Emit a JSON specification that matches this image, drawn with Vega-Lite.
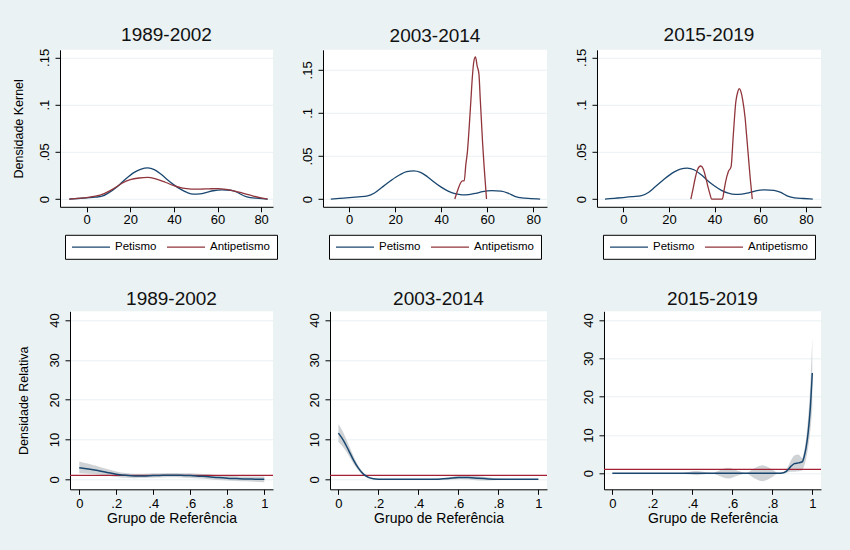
{
  "$schema": "https://vega.github.io/schema/vega-lite/v6.json",
  "background": "#EAF2F3",
  "padding": {"left": 2, "top": 24.8, "right": 29, "bottom": 26},
  "config": {
    "font": "Liberation Sans",
    "view": {"fill": "white", "stroke": null},
    "title": {"font": "Liberation Sans", "fontSize": 19, "fontWeight": "normal", "color": "#111111", "anchor": "middle", "offset": 3.7},
    "axis": {"labelFont": "Liberation Sans", "labelFontSize": 13, "labelColor": "#000000", "titleFont": "Liberation Sans", "titleFontWeight": "normal", "titleColor": "#000000", "domainColor": "#000000", "tickColor": "#000000", "tickSize": 5, "gridColor": "#EAF2F3", "labelPadding": 2, "labelExpr": "replace(format(datum.value, '~g'), '0.', '.')"},
    "axisY": {"labelAngle": 270, "labelAlign": "center", "labelBaseline": "alphabetic", "labelPadding": 6.5, "grid": true},
    "axisX": {"grid": false},
    "legend": {"orient": "none", "direction": "horizontal", "strokeColor": "#000000", "fillColor": "#ffffff", "padding": 6, "columnPadding": 7, "symbolType": "M-3.8,0H3.8", "symbolSize": 100, "symbolOffset": 14, "labelOffset": 18, "symbolStrokeWidth": 1.3, "labelFont": "Liberation Sans", "labelFontSize": 11.5, "labelColor": "#000000", "title": null, "legendY": 185}
  },
  "datasets": {
    "k1": [
      {"x": -8, "y": 0, "grupo": "Petismo"}, {"x": -4, "y": 0.0006, "grupo": "Petismo"}, {"x": 0, "y": 0.0013, "grupo": "Petismo"}, {"x": 4, "y": 0.002, "grupo": "Petismo"}, {"x": 7, "y": 0.003, "grupo": "Petismo"}, {"x": 10, "y": 0.0065, "grupo": "Petismo"}, {"x": 14, "y": 0.013, "grupo": "Petismo"}, {"x": 18, "y": 0.0215, "grupo": "Petismo"}, {"x": 22, "y": 0.0285, "grupo": "Petismo"}, {"x": 25, "y": 0.0318, "grupo": "Petismo"}, {"x": 28, "y": 0.033, "grupo": "Petismo"}, {"x": 31, "y": 0.0312, "grupo": "Petismo"}, {"x": 34, "y": 0.0265, "grupo": "Petismo"}, {"x": 37, "y": 0.0205, "grupo": "Petismo"}, {"x": 40, "y": 0.015, "grupo": "Petismo"}, {"x": 43, "y": 0.0105, "grupo": "Petismo"}, {"x": 46, "y": 0.007, "grupo": "Petismo"}, {"x": 49, "y": 0.0052, "grupo": "Petismo"}, {"x": 52, "y": 0.0055, "grupo": "Petismo"}, {"x": 55, "y": 0.007, "grupo": "Petismo"}, {"x": 58, "y": 0.0088, "grupo": "Petismo"}, {"x": 62, "y": 0.0098, "grupo": "Petismo"}, {"x": 66, "y": 0.0093, "grupo": "Petismo"}, {"x": 69, "y": 0.0072, "grupo": "Petismo"}, {"x": 72, "y": 0.0035, "grupo": "Petismo"}, {"x": 75, "y": 0.0015, "grupo": "Petismo"}, {"x": 79, "y": 0.0007, "grupo": "Petismo"}, {"x": 83, "y": 0, "grupo": "Petismo"},
      {"x": -8, "y": 0, "grupo": "Antipetismo"}, {"x": -4, "y": 0.0007, "grupo": "Antipetismo"}, {"x": 0, "y": 0.0016, "grupo": "Antipetismo"}, {"x": 4, "y": 0.003, "grupo": "Antipetismo"}, {"x": 8, "y": 0.0058, "grupo": "Antipetismo"}, {"x": 12, "y": 0.0105, "grupo": "Antipetismo"}, {"x": 16, "y": 0.0165, "grupo": "Antipetismo"}, {"x": 20, "y": 0.0205, "grupo": "Antipetismo"}, {"x": 24, "y": 0.0223, "grupo": "Antipetismo"}, {"x": 28, "y": 0.023, "grupo": "Antipetismo"}, {"x": 32, "y": 0.021, "grupo": "Antipetismo"}, {"x": 36, "y": 0.0178, "grupo": "Antipetismo"}, {"x": 40, "y": 0.0142, "grupo": "Antipetismo"}, {"x": 44, "y": 0.0115, "grupo": "Antipetismo"}, {"x": 48, "y": 0.0106, "grupo": "Antipetismo"}, {"x": 52, "y": 0.0105, "grupo": "Antipetismo"}, {"x": 56, "y": 0.0108, "grupo": "Antipetismo"}, {"x": 60, "y": 0.0111, "grupo": "Antipetismo"}, {"x": 64, "y": 0.0103, "grupo": "Antipetismo"}, {"x": 68, "y": 0.0085, "grupo": "Antipetismo"}, {"x": 72, "y": 0.006, "grupo": "Antipetismo"}, {"x": 76, "y": 0.0034, "grupo": "Antipetismo"}, {"x": 80, "y": 0.0012, "grupo": "Antipetismo"}, {"x": 83, "y": 0, "grupo": "Antipetismo"}
    ],
    "k2": [
      {"x": -8, "y": 0, "grupo": "Petismo"}, {"x": -4, "y": 0.0008, "grupo": "Petismo"}, {"x": 0, "y": 0.0016, "grupo": "Petismo"}, {"x": 4, "y": 0.0025, "grupo": "Petismo"}, {"x": 8, "y": 0.0036, "grupo": "Petismo"}, {"x": 11, "y": 0.007, "grupo": "Petismo"}, {"x": 14, "y": 0.013, "grupo": "Petismo"}, {"x": 18, "y": 0.0212, "grupo": "Petismo"}, {"x": 22, "y": 0.0282, "grupo": "Petismo"}, {"x": 25, "y": 0.0318, "grupo": "Petismo"}, {"x": 28, "y": 0.0327, "grupo": "Petismo"}, {"x": 31, "y": 0.031, "grupo": "Petismo"}, {"x": 34, "y": 0.026, "grupo": "Petismo"}, {"x": 37, "y": 0.0195, "grupo": "Petismo"}, {"x": 40, "y": 0.0138, "grupo": "Petismo"}, {"x": 43, "y": 0.0092, "grupo": "Petismo"}, {"x": 46, "y": 0.0062, "grupo": "Petismo"}, {"x": 49, "y": 0.0049, "grupo": "Petismo"}, {"x": 52, "y": 0.0052, "grupo": "Petismo"}, {"x": 55, "y": 0.0066, "grupo": "Petismo"}, {"x": 58, "y": 0.0087, "grupo": "Petismo"}, {"x": 62, "y": 0.0098, "grupo": "Petismo"}, {"x": 66, "y": 0.0092, "grupo": "Petismo"}, {"x": 69, "y": 0.007, "grupo": "Petismo"}, {"x": 72, "y": 0.0032, "grupo": "Petismo"}, {"x": 75, "y": 0.0013, "grupo": "Petismo"}, {"x": 79, "y": 0.0006, "grupo": "Petismo"}, {"x": 83, "y": 0, "grupo": "Petismo"},
      {"x": 45.9, "y": 0, "grupo": "Antipetismo"}, {"x": 46.5, "y": 0.005, "grupo": "Antipetismo"}, {"x": 47.4, "y": 0.012, "grupo": "Antipetismo"}, {"x": 48.3, "y": 0.018, "grupo": "Antipetismo"}, {"x": 49.2, "y": 0.021, "grupo": "Antipetismo"}, {"x": 50, "y": 0.021, "grupo": "Antipetismo"}, {"x": 50.7, "y": 0.04, "grupo": "Antipetismo"}, {"x": 51.4, "y": 0.055, "grupo": "Antipetismo"}, {"x": 52.2, "y": 0.085, "grupo": "Antipetismo"}, {"x": 52.8, "y": 0.11, "grupo": "Antipetismo"}, {"x": 53.5, "y": 0.14, "grupo": "Antipetismo"}, {"x": 54.2, "y": 0.16, "grupo": "Antipetismo"}, {"x": 54.9, "y": 0.165, "grupo": "Antipetismo"}, {"x": 55.6, "y": 0.155, "grupo": "Antipetismo"}, {"x": 56.4, "y": 0.145, "grupo": "Antipetismo"}, {"x": 57, "y": 0.115, "grupo": "Antipetismo"}, {"x": 57.5, "y": 0.09, "grupo": "Antipetismo"}, {"x": 58, "y": 0.065, "grupo": "Antipetismo"}, {"x": 58.6, "y": 0.04, "grupo": "Antipetismo"}, {"x": 59.2, "y": 0.018, "grupo": "Antipetismo"}, {"x": 59.7, "y": 0, "grupo": "Antipetismo"}
    ],
    "k3": [
      {"x": -8, "y": 0, "grupo": "Petismo"}, {"x": -4, "y": 0.0008, "grupo": "Petismo"}, {"x": 0, "y": 0.0016, "grupo": "Petismo"}, {"x": 4, "y": 0.0025, "grupo": "Petismo"}, {"x": 8, "y": 0.0036, "grupo": "Petismo"}, {"x": 11, "y": 0.007, "grupo": "Petismo"}, {"x": 14, "y": 0.013, "grupo": "Petismo"}, {"x": 18, "y": 0.0212, "grupo": "Petismo"}, {"x": 22, "y": 0.0282, "grupo": "Petismo"}, {"x": 25, "y": 0.0318, "grupo": "Petismo"}, {"x": 28, "y": 0.0327, "grupo": "Petismo"}, {"x": 31, "y": 0.031, "grupo": "Petismo"}, {"x": 34, "y": 0.026, "grupo": "Petismo"}, {"x": 37, "y": 0.0195, "grupo": "Petismo"}, {"x": 40, "y": 0.0138, "grupo": "Petismo"}, {"x": 43, "y": 0.0092, "grupo": "Petismo"}, {"x": 46, "y": 0.0062, "grupo": "Petismo"}, {"x": 49, "y": 0.0049, "grupo": "Petismo"}, {"x": 52, "y": 0.0052, "grupo": "Petismo"}, {"x": 55, "y": 0.0066, "grupo": "Petismo"}, {"x": 58, "y": 0.0087, "grupo": "Petismo"}, {"x": 62, "y": 0.0098, "grupo": "Petismo"}, {"x": 66, "y": 0.0092, "grupo": "Petismo"}, {"x": 69, "y": 0.007, "grupo": "Petismo"}, {"x": 72, "y": 0.0032, "grupo": "Petismo"}, {"x": 75, "y": 0.0013, "grupo": "Petismo"}, {"x": 79, "y": 0.0006, "grupo": "Petismo"}, {"x": 83, "y": 0, "grupo": "Petismo"},
      {"x": 29.6, "y": 0, "grupo": "Antipetismo"}, {"x": 30.5, "y": 0.01, "grupo": "Antipetismo"}, {"x": 31.5, "y": 0.022, "grupo": "Antipetismo"}, {"x": 32.5, "y": 0.031, "grupo": "Antipetismo"}, {"x": 33.9, "y": 0.035, "grupo": "Antipetismo"}, {"x": 35, "y": 0.032, "grupo": "Antipetismo"}, {"x": 36, "y": 0.024, "grupo": "Antipetismo"}, {"x": 37, "y": 0.014, "grupo": "Antipetismo"}, {"x": 38, "y": 0.005, "grupo": "Antipetismo"}, {"x": 38.7, "y": 0, "grupo": "Antipetismo"}, {"x": 41, "y": 0, "grupo": "Antipetismo"}, {"x": 43.4, "y": 0, "grupo": "Antipetismo"}, {"x": 44.2, "y": 0.01, "grupo": "Antipetismo"}, {"x": 44.8, "y": 0.018, "grupo": "Antipetismo"}, {"x": 46, "y": 0.029, "grupo": "Antipetismo"}, {"x": 47.2, "y": 0.034, "grupo": "Antipetismo"}, {"x": 48.2, "y": 0.068, "grupo": "Antipetismo"}, {"x": 49.3, "y": 0.103, "grupo": "Antipetismo"}, {"x": 50.2, "y": 0.114, "grupo": "Antipetismo"}, {"x": 50.8, "y": 0.117, "grupo": "Antipetismo"}, {"x": 51.5, "y": 0.114, "grupo": "Antipetismo"}, {"x": 52.3, "y": 0.105, "grupo": "Antipetismo"}, {"x": 53.4, "y": 0.085, "grupo": "Antipetismo"}, {"x": 54, "y": 0.068, "grupo": "Antipetismo"}, {"x": 54.7, "y": 0.048, "grupo": "Antipetismo"}, {"x": 55.6, "y": 0.022, "grupo": "Antipetismo"}, {"x": 56.5, "y": 0, "grupo": "Antipetismo"}
    ],
    "r1": [
      {"x": 0, "y": 2.9, "lo": 1.5, "hi": 4.5}, {"x": 0.05, "y": 2.6, "lo": 1.4, "hi": 3.9}, {"x": 0.1, "y": 2.2, "lo": 1.2, "hi": 3.3}, {"x": 0.15, "y": 1.7, "lo": 0.9, "hi": 2.6}, {"x": 0.2, "y": 1.3, "lo": 0.6, "hi": 2.0}, {"x": 0.25, "y": 1.0, "lo": 0.4, "hi": 1.6}, {"x": 0.3, "y": 0.85, "lo": 0.3, "hi": 1.4}, {"x": 0.35, "y": 0.85, "lo": 0.35, "hi": 1.4}, {"x": 0.4, "y": 0.95, "lo": 0.4, "hi": 1.5}, {"x": 0.45, "y": 1.0, "lo": 0.45, "hi": 1.55}, {"x": 0.5, "y": 1.05, "lo": 0.5, "hi": 1.6}, {"x": 0.55, "y": 1.0, "lo": 0.45, "hi": 1.55}, {"x": 0.6, "y": 0.95, "lo": 0.35, "hi": 1.5}, {"x": 0.65, "y": 0.8, "lo": 0.2, "hi": 1.4}, {"x": 0.7, "y": 0.65, "lo": 0.05, "hi": 1.25}, {"x": 0.75, "y": 0.45, "lo": -0.15, "hi": 1.05}, {"x": 0.8, "y": 0.3, "lo": -0.3, "hi": 0.9}, {"x": 0.85, "y": 0.2, "lo": -0.4, "hi": 0.8}, {"x": 0.9, "y": 0.1, "lo": -0.5, "hi": 0.7}, {"x": 0.95, "y": 0.05, "lo": -0.6, "hi": 0.7}, {"x": 1.0, "y": 0.0, "lo": -0.7, "hi": 0.7}
    ],
    "r2": [
      {"x": 0, "y": 11.6, "lo": 9.4, "hi": 13.9}, {"x": 0.025, "y": 9.8, "lo": 8.0, "hi": 11.7}, {"x": 0.05, "y": 7.4, "lo": 6.1, "hi": 8.8}, {"x": 0.075, "y": 4.9, "lo": 4.0, "hi": 5.9}, {"x": 0.1, "y": 2.8, "lo": 2.2, "hi": 3.4}, {"x": 0.125, "y": 1.3, "lo": 0.95, "hi": 1.7}, {"x": 0.15, "y": 0.5, "lo": 0.3, "hi": 0.75}, {"x": 0.175, "y": 0.15, "lo": 0.02, "hi": 0.3}, {"x": 0.2, "y": 0.05, "lo": -0.05, "hi": 0.15}, {"x": 0.25, "y": 0.0, "lo": -0.05, "hi": 0.08}, {"x": 0.3, "y": 0.0, "lo": -0.05, "hi": 0.05}, {"x": 0.35, "y": 0.0, "lo": -0.05, "hi": 0.05}, {"x": 0.4, "y": 0.0, "lo": -0.05, "hi": 0.05}, {"x": 0.45, "y": 0.0, "lo": -0.05, "hi": 0.08}, {"x": 0.5, "y": 0.05, "lo": -0.1, "hi": 0.2}, {"x": 0.55, "y": 0.2, "lo": -0.1, "hi": 0.5}, {"x": 0.6, "y": 0.45, "lo": 0.0, "hi": 0.9}, {"x": 0.65, "y": 0.45, "lo": -0.05, "hi": 0.95}, {"x": 0.7, "y": 0.25, "lo": -0.3, "hi": 0.8}, {"x": 0.75, "y": 0.1, "lo": -0.3, "hi": 0.5}, {"x": 0.8, "y": 0.03, "lo": -0.15, "hi": 0.2}, {"x": 0.9, "y": 0.0, "lo": -0.05, "hi": 0.05}, {"x": 1.0, "y": 0.0, "lo": -0.05, "hi": 0.05}
    ],
    "r3": [
      {"x": 0, "y": 0, "lo": -0.02, "hi": 0.02}, {"x": 0.1, "y": 0, "lo": -0.02, "hi": 0.02}, {"x": 0.2, "y": 0, "lo": -0.02, "hi": 0.02}, {"x": 0.3, "y": 0, "lo": -0.02, "hi": 0.02}, {"x": 0.35, "y": 0, "lo": -0.05, "hi": 0.05}, {"x": 0.38, "y": 0, "lo": -0.3, "hi": 0.3}, {"x": 0.42, "y": 0, "lo": -0.55, "hi": 0.55}, {"x": 0.46, "y": 0, "lo": -0.3, "hi": 0.3}, {"x": 0.5, "y": 0, "lo": -0.05, "hi": 0.05}, {"x": 0.53, "y": 0, "lo": -0.6, "hi": 0.6}, {"x": 0.58, "y": 0, "lo": -1.4, "hi": 1.4}, {"x": 0.63, "y": 0, "lo": -0.6, "hi": 0.6}, {"x": 0.67, "y": 0, "lo": -0.1, "hi": 0.1}, {"x": 0.7, "y": 0, "lo": -1.0, "hi": 1.0}, {"x": 0.75, "y": 0, "lo": -2.1, "hi": 2.1}, {"x": 0.8, "y": 0, "lo": -1.0, "hi": 1.0}, {"x": 0.83, "y": 0, "lo": -0.1, "hi": 0.1}, {"x": 0.85, "y": 0.05, "lo": -0.1, "hi": 0.2}, {"x": 0.87, "y": 0.5, "lo": 0.1, "hi": 1.0}, {"x": 0.89, "y": 1.6, "lo": 0.4, "hi": 3.0}, {"x": 0.91, "y": 2.5, "lo": 0.4, "hi": 4.6}, {"x": 0.93, "y": 2.7, "lo": 0.5, "hi": 4.9}, {"x": 0.95, "y": 3.0, "lo": 0.8, "hi": 4.0}, {"x": 0.96, "y": 4.5, "lo": 2.0, "hi": 6.0}, {"x": 0.97, "y": 7.0, "lo": 4.0, "hi": 9.5}, {"x": 0.98, "y": 11.0, "lo": 7.0, "hi": 15.0}, {"x": 0.99, "y": 17.0, "lo": 11.0, "hi": 23.0}, {"x": 1.0, "y": 26.2, "lo": 17.0, "hi": 35.3}
    ]
  },
  "vconcat": [
    {
      "bounds": "flush",
      "spacing": 50,
      "resolve": {"scale": {"x": "independent", "y": "independent", "color": "independent"}, "legend": {"color": "independent"}},
      "hconcat": [
        {"width": 8, "height": 1, "view": {"fill": null, "stroke": null}, "data": {"values": []}, "mark": "point"},
        {
          "width": 213, "height": 157, "title": {"text": "1989-2002", "offset": 3.7}, "data": {"name": "k1"},
          "mark": {"type": "line", "strokeWidth": 1.3, "interpolate": "monotone"},
          "encoding": {
            "x": {"field": "x", "type": "quantitative", "scale": {"domain": [-12.25, 85.45], "nice": false, "zero": false}, "axis": {"values": [0, 20, 40, 60, 80], "title": null}},
            "y": {"field": "y", "type": "quantitative", "scale": {"domain": [-0.0082, 0.158], "nice": false, "zero": false}, "axis": {"values": [0, 0.05, 0.1, 0.15], "title": "Densidade Kernel", "titleFontSize": 12.5, "titleX": -42, "titleY": 78.5, "titleAngle": 270, "titleAlign": "center", "titleBaseline": "middle"}},
            "color": {"field": "grupo", "type": "nominal", "scale": {"domain": ["Petismo", "Antipetismo"], "range": ["#1a476f", "#90353b"]}, "legend": {"legendX": 5, "legendY": 185}}
          }
        },
        {
          "width": 224, "height": 157, "title": {"text": "2003-2014", "offset": 3.7}, "data": {"name": "k2"},
          "mark": {"type": "line", "strokeWidth": 1.3, "interpolate": "monotone"},
          "encoding": {
            "x": {"field": "x", "type": "quantitative", "scale": {"domain": [-11.4, 86.0], "nice": false, "zero": false}, "axis": {"values": [0, 20, 40, 60, 80], "title": null}},
            "y": {"field": "y", "type": "quantitative", "scale": {"domain": [-0.009, 0.1733], "nice": false, "zero": false}, "axis": {"values": [0, 0.05, 0.1, 0.15], "title": null}},
            "color": {"field": "grupo", "type": "nominal", "scale": {"domain": ["Petismo", "Antipetismo"], "range": ["#1a476f", "#90353b"]}, "legend": {"legendX": 6, "legendY": 185}}
          }
        },
        {
          "width": 224, "height": 157, "title": {"text": "2015-2019", "offset": 3.7}, "data": {"name": "k3"},
          "mark": {"type": "line", "strokeWidth": 1.3, "interpolate": "monotone"},
          "encoding": {
            "x": {"field": "x", "type": "quantitative", "scale": {"domain": [-11.5, 86.6], "nice": false, "zero": false}, "axis": {"values": [0, 20, 40, 60, 80], "title": null}},
            "y": {"field": "y", "type": "quantitative", "scale": {"domain": [-0.0082, 0.158], "nice": false, "zero": false}, "axis": {"values": [0, 0.05, 0.1, 0.15], "title": null}},
            "color": {"field": "grupo", "type": "nominal", "scale": {"domain": ["Petismo", "Antipetismo"], "range": ["#1a476f", "#90353b"]}, "legend": {"legendX": 6, "legendY": 185}}
          }
        }
      ]
    },
    {
      "bounds": "flush",
      "spacing": 57,
      "resolve": {"scale": {"x": "independent", "y": "independent"}},
      "hconcat": [
        {"width": 11, "height": 1, "view": {"fill": null, "stroke": null}, "data": {"values": []}, "mark": "point"},
        {
          "width": 203, "height": 178, "title": {"text": "1989-2002", "offset": 2}, "data": {"name": "r1"},
          "layer": [
            {"mark": {"type": "area", "color": "#cfd3d6", "interpolate": "monotone"},
             "encoding": {
               "x": {"field": "x", "type": "quantitative", "scale": {"domain": [-0.05, 1.047], "nice": false, "zero": false}, "axis": {"values": [0, 0.2, 0.4, 0.6, 0.8, 1], "title": "Grupo de Referência", "titleFontSize": 14, "titlePadding": 1, "labelPadding": 3}},
               "y": {"field": "hi", "type": "quantitative", "scale": {"domain": [-2.5, 42.2], "nice": false, "zero": false}, "axis": {"values": [0, 10, 20, 30, 40], "title": "Densidade Relativa", "titleFontSize": 12.5, "titleX": -47, "titleY": 89, "titleAngle": 270, "titleAlign": "center", "titleBaseline": "middle"}},
               "y2": {"field": "lo"}}},
            {"data": {"values": [{"ref": 1}]}, "mark": {"type": "rule", "color": "#a32035", "strokeWidth": 1.3},
             "encoding": {"y": {"field": "ref", "type": "quantitative", "scale": {"domain": [-2.5, 42.2], "nice": false, "zero": false}}}},
            {"mark": {"type": "line", "color": "#1a476f", "strokeWidth": 1.5, "interpolate": "monotone"},
             "encoding": {
               "x": {"field": "x", "type": "quantitative", "scale": {"domain": [-0.05, 1.047], "nice": false, "zero": false}},
               "y": {"field": "y", "type": "quantitative", "scale": {"domain": [-2.5, 42.2], "nice": false, "zero": false}}}}
          ]
        },
        {
          "width": 217, "height": 178, "title": {"text": "2003-2014", "offset": 2}, "data": {"name": "r2"},
          "layer": [
            {"mark": {"type": "area", "color": "#cfd3d6", "interpolate": "monotone"},
             "encoding": {
               "x": {"field": "x", "type": "quantitative", "scale": {"domain": [-0.042, 1.043], "nice": false, "zero": false}, "axis": {"values": [0, 0.2, 0.4, 0.6, 0.8, 1], "title": "Grupo de Referência", "titleFontSize": 14, "titlePadding": 1, "labelPadding": 3}},
               "y": {"field": "hi", "type": "quantitative", "scale": {"domain": [-2.5, 42.2], "nice": false, "zero": false}, "axis": {"values": [0, 10, 20, 30, 40], "title": null}},
               "y2": {"field": "lo"}}},
            {"data": {"values": [{"ref": 1}]}, "mark": {"type": "rule", "color": "#a32035", "strokeWidth": 1.3},
             "encoding": {"y": {"field": "ref", "type": "quantitative", "scale": {"domain": [-2.5, 42.2], "nice": false, "zero": false}}}},
            {"mark": {"type": "line", "color": "#1a476f", "strokeWidth": 1.5, "interpolate": "monotone"},
             "encoding": {
               "x": {"field": "x", "type": "quantitative", "scale": {"domain": [-0.042, 1.043], "nice": false, "zero": false}},
               "y": {"field": "y", "type": "quantitative", "scale": {"domain": [-2.5, 42.2], "nice": false, "zero": false}}}}
          ]
        },
        {
          "width": 217, "height": 178, "title": {"text": "2015-2019", "offset": 2}, "data": {"name": "r3"},
          "layer": [
            {"mark": {"type": "area", "color": "#cfd3d6", "interpolate": "monotone"},
             "encoding": {
               "x": {"field": "x", "type": "quantitative", "scale": {"domain": [-0.0415, 1.0435], "nice": false, "zero": false}, "axis": {"values": [0, 0.2, 0.4, 0.6, 0.8, 1], "title": "Grupo de Referência", "titleFontSize": 14, "titlePadding": 1, "labelPadding": 3}},
               "y": {"field": "hi", "type": "quantitative", "scale": {"domain": [-4.2, 42.3], "nice": false, "zero": false}, "axis": {"values": [0, 10, 20, 30, 40], "title": null}},
               "y2": {"field": "lo"}}},
            {"data": {"values": [{"ref": 1}]}, "mark": {"type": "rule", "color": "#a32035", "strokeWidth": 1.3},
             "encoding": {"y": {"field": "ref", "type": "quantitative", "scale": {"domain": [-4.2, 42.3], "nice": false, "zero": false}}}},
            {"mark": {"type": "line", "color": "#1a476f", "strokeWidth": 1.5, "interpolate": "monotone"},
             "encoding": {
               "x": {"field": "x", "type": "quantitative", "scale": {"domain": [-0.0415, 1.0435], "nice": false, "zero": false}},
               "y": {"field": "y", "type": "quantitative", "scale": {"domain": [-4.2, 42.3], "nice": false, "zero": false}}}}
          ]
        }
      ]
    }
  ],
  "bounds": "flush",
  "spacing": 261.5,
  "resolve": {"scale": {"x": "independent", "y": "independent", "color": "independent"}, "legend": {"color": "independent"}}
}
